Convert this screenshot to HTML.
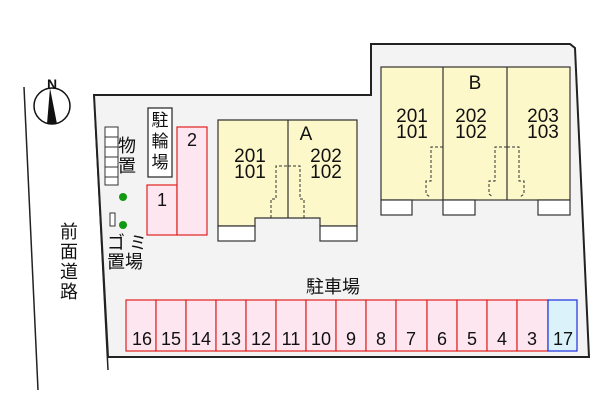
<!DOCTYPE html>
<html><head><meta charset="utf-8"><style>
body{margin:0;width:600px;height:400px;background:#fff;overflow:hidden}
svg text{font-family:"Liberation Sans","Noto Sans CJK JP",sans-serif;fill:#111}
</style></head><body>
<svg width="600" height="400" viewBox="0 0 600 400" xmlns="http://www.w3.org/2000/svg">
<line x1="24" y1="87" x2="38" y2="390" stroke="#222" stroke-width="1.5"/>
<line x1="94" y1="96" x2="108" y2="370" stroke="#222" stroke-width="1.5"/>
<polygon points="94,95 371,95 371,44 570,44 575,48 589,357 108,357" fill="#f3f3f3" stroke="#222" stroke-width="2"/>
<circle cx="52" cy="106" r="18" fill="#fff" stroke="#111" stroke-width="1.5"/>
<polygon points="50,88 47,124 57,124" fill="#111"/>
<text x="52" y="89" font-size="14" font-weight="bold" text-anchor="middle">N</text>
<g font-size="18" text-anchor="middle"><text x="69" y="238">前</text><text x="69" y="258">面</text><text x="69" y="278">道</text><text x="69" y="298">路</text></g>
<g fill="#fff" stroke="#333" stroke-width="1">
<rect x="105" y="127" width="13" height="10"/><rect x="105" y="137" width="13" height="10"/><rect x="105" y="147" width="13" height="10"/><rect x="105" y="157" width="13" height="10"/><rect x="105" y="167" width="13" height="10"/><rect x="105" y="177" width="13" height="8"/>
<rect x="110" y="213" width="5" height="13"/>
</g>
<g font-size="18" text-anchor="middle"><text x="127" y="152">物</text><text x="127" y="172">置</text></g>
<circle cx="123" cy="197" r="4" fill="#119911"/><circle cx="123" cy="225" r="4" fill="#119911"/>
<g font-size="18"><text x="107" y="249">ゴ</text><text x="129" y="249">ミ</text><text x="107" y="268">置場</text></g>
<rect x="148" y="108" width="24" height="69" fill="#fff" stroke="#222" stroke-width="1.2"/>
<g font-size="17" text-anchor="middle"><text x="160" y="126">駐</text><text x="160" y="147">輪</text><text x="160" y="168">場</text></g>
<rect x="147" y="185" width="30" height="50" fill="#fde6ef" stroke="#e02020" stroke-width="1.2"/>
<rect x="177" y="127" width="30" height="108" fill="#fde6ef" stroke="#e02020" stroke-width="1.2"/>
<text x="162" y="206" font-size="18" text-anchor="middle">1</text>
<text x="192" y="146" font-size="18" text-anchor="middle">2</text>
<polygon points="218,120 357,120 357,226 320,226 320,218 255,218 255,226 218,226" fill="#fdf8c9" stroke="#333" stroke-width="1.2"/>
<line x1="288" y1="120" x2="288" y2="218" stroke="#333" stroke-width="1.2"/>
<rect x="218" y="226" width="37" height="15" fill="#fff" stroke="#333" stroke-width="1.2"/>
<rect x="320" y="226" width="37" height="15" fill="#fff" stroke="#333" stroke-width="1.2"/>
<g fill="none" stroke="#333" stroke-dasharray="3,2"><polyline points="271,218 271,199 276,199 276,166 288,166"/><polyline points="304,218 304,199 300,199 300,166 288,166"/></g>
<g font-size="19" text-anchor="middle"><text x="306" y="140">A</text><text x="250" y="162">201</text><text x="250" y="178">101</text><text x="326" y="162">202</text><text x="326" y="178">102</text></g>
<rect x="381" y="67" width="189" height="133" fill="#fdf8c9" stroke="#333" stroke-width="1.2"/>
<line x1="443" y1="67" x2="443" y2="200" stroke="#333" stroke-width="1.2"/>
<line x1="507" y1="67" x2="507" y2="200" stroke="#333" stroke-width="1.2"/>
<g fill="#fff" stroke="#333" stroke-width="1.2"><rect x="381" y="200" width="31" height="15"/><rect x="443" y="200" width="32" height="15"/><rect x="538" y="200" width="32" height="15"/></g>
<g fill="none" stroke="#333" stroke-dasharray="3,2"><polyline points="443,147 431,147 431,181 426,181 426,194 430,197"/><polyline points="507,147 495,147 495,181 489,181 489,194 493,197"/><polyline points="507,147 519,147 519,181 524,181 524,194 520,197"/></g>
<g font-size="19" text-anchor="middle"><text x="475" y="89">B</text><text x="412" y="122">201</text><text x="412" y="138">101</text><text x="471" y="122">202</text><text x="471" y="138">102</text><text x="543" y="122">203</text><text x="543" y="138">103</text></g>
<text x="333" y="293" font-size="18" text-anchor="middle">駐車場</text>
<g fill="#fde6ef" stroke="#e02020" stroke-width="1.2">
<rect x="126" y="300" width="30" height="51"/><rect x="156" y="300" width="30" height="51"/><rect x="186" y="300" width="30" height="51"/><rect x="216" y="300" width="30" height="51"/><rect x="246" y="300" width="30" height="51"/><rect x="276" y="300" width="30" height="51"/><rect x="306" y="300" width="30" height="51"/><rect x="336" y="300" width="30" height="51"/><rect x="366" y="300" width="30" height="51"/><rect x="396" y="300" width="31" height="51"/><rect x="427" y="300" width="30" height="51"/><rect x="457" y="300" width="30" height="51"/><rect x="487" y="300" width="30" height="51"/><rect x="517" y="300" width="31" height="51"/>
</g>
<rect x="548" y="300" width="29" height="51" fill="#dcf2fb" stroke="#1a2fe0" stroke-width="1.2"/>
<g font-size="18" text-anchor="middle">
<text x="142" y="345">16</text><text x="171" y="345">15</text><text x="201" y="345">14</text><text x="231" y="345">13</text><text x="261" y="345">12</text><text x="291" y="345">11</text><text x="321" y="345">10</text><text x="351" y="345">9</text><text x="381" y="345">8</text><text x="411" y="345">7</text><text x="442" y="345">6</text><text x="472" y="345">5</text><text x="502" y="345">4</text><text x="532" y="345">3</text><text x="563" y="345">17</text>
</g>
</svg>
</body></html>
